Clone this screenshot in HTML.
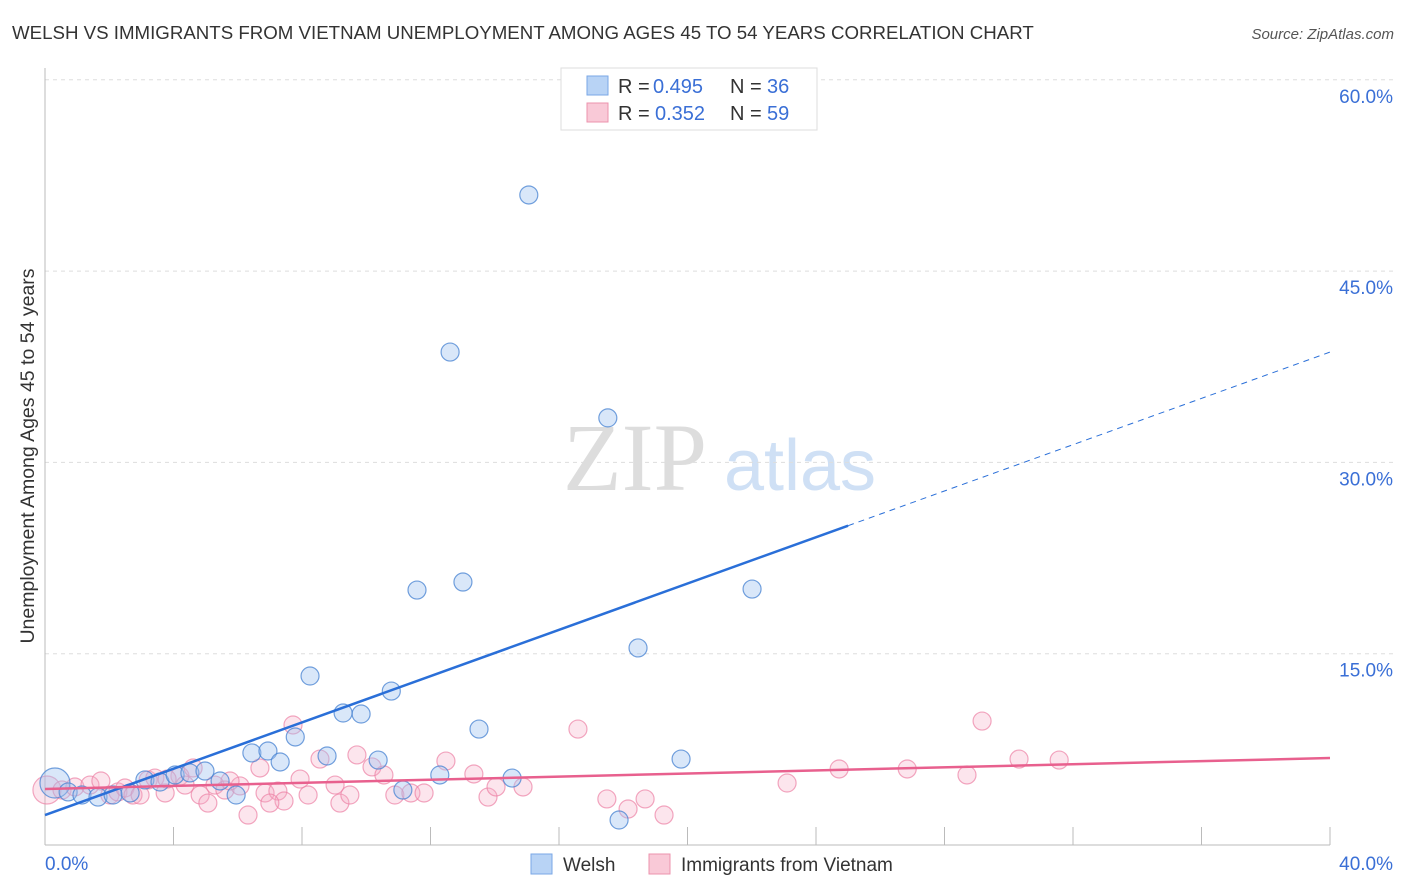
<!DOCTYPE html>
<html><head><meta charset="utf-8">
<style>
body{margin:0;background:#fff;font-family:"Liberation Sans",sans-serif;}
#wrap{position:relative;width:1406px;height:892px;overflow:hidden;}
svg{position:absolute;left:0;top:0;}
</style></head>
<body>
<div id="wrap">
<svg id="chart" width="1406" height="892" xmlns="http://www.w3.org/2000/svg">
<text x="12" y="39" font-size="18.7" fill="#333">WELSH VS IMMIGRANTS FROM VIETNAM UNEMPLOYMENT AMONG AGES 45 TO 54 YEARS CORRELATION CHART</text>
<text x="1394" y="39" font-size="15" fill="#555" font-style="italic" text-anchor="end">Source: ZipAtlas.com</text>
<text x="34" y="456" font-size="19.5" fill="#333" text-anchor="middle" transform="rotate(-90 34 456)">Unemployment Among Ages 45 to 54 years</text>
<g>
<text x="635" y="490" font-size="96" fill="#ddd" font-family="Liberation Serif,serif" text-anchor="middle">ZIP</text>
<text x="800" y="490" font-size="72" fill="#cfe0f5" text-anchor="middle">atlas</text>
</g>
<g id="grid"></g>
<g id="axes"></g>
<g id="pts"></g>
<g id="lines"></g>
<g>
<rect x="561" y="68" width="256" height="62" fill="#fff" stroke="#ddd"/>
<rect x="587" y="76" width="21" height="19" fill="#b8d3f5" stroke="#7aa7e6"/>
<text x="618" y="93" font-size="20" fill="#333">R =</text>
<text x="653" y="93" font-size="20" fill="#3a6fd6">0.495</text>
<text x="730" y="93" font-size="20" fill="#333">N =</text>
<text x="767" y="93" font-size="20" fill="#3a6fd6">36</text>
<rect x="587" y="103" width="21" height="19" fill="#f9c9d7" stroke="#ec93ae"/>
<text x="618" y="120" font-size="20" fill="#333">R =</text>
<text x="655" y="120" font-size="20" fill="#3a6fd6">0.352</text>
<text x="730" y="120" font-size="20" fill="#333">N =</text>
<text x="767" y="120" font-size="20" fill="#3a6fd6">59</text>
</g>
<g>
<rect x="531" y="854" width="21" height="20" fill="#b8d3f5" stroke="#7aa7e6"/>
<text x="563" y="871" font-size="19" fill="#333">Welsh</text>
<rect x="649" y="854" width="21" height="20" fill="#f9c9d7" stroke="#ec93ae"/>
<text x="681" y="871" font-size="19" fill="#333">Immigrants from Vietnam</text>
</g>
</svg>
</div>
<script>
const yTicks=[15,30,45,60];
const yTickLabels=["15.0%","30.0%","45.0%","60.0%"];
const xLabels=["0.0%","40.0%"];
const welshX=[0.31,0.72,1.15,1.65,2.12,2.65,3.11,3.58,4.05,4.51,4.98,5.45,5.95,6.44,6.94,7.32,7.79,8.25,8.78,9.28,9.84,10.37,10.78,11.14,11.58,12.29,12.61,13.01,13.51,14.54,15.06,17.52,17.87,18.46,19.80,22.01];
const welshY=[4.86,4.16,3.92,3.76,3.92,4.08,5.10,4.94,5.49,5.65,5.80,5.02,3.92,7.22,7.37,6.51,8.47,13.25,6.98,10.35,10.27,6.66,12.07,4.31,19.99,5.49,38.65,20.62,9.09,5.25,50.97,33.49,1.96,15.45,6.74,20.07];
const vietX=[0.06,0.53,0.93,1.40,1.74,2.02,2.27,2.49,2.74,3.21,3.42,3.74,4.20,4.36,4.61,4.83,5.07,5.29,5.60,6.07,6.32,6.69,6.85,7.25,7.44,7.72,7.94,8.19,8.56,9.03,9.18,9.49,9.71,10.18,10.55,10.89,11.39,11.80,12.48,13.35,13.79,14.04,14.88,16.59,17.49,18.15,18.68,19.27,23.10,24.72,26.84,28.70,29.17,30.32,31.57,2.96,5.76,7.00,3.80];
const vietY=[4.31,4.31,4.55,4.70,5.02,3.92,4.16,4.47,3.92,5.10,5.25,4.08,5.41,4.70,6.04,3.92,3.29,4.70,4.31,4.63,2.35,6.04,4.08,4.23,3.45,9.41,5.17,3.92,6.74,4.70,3.29,3.92,7.06,6.12,5.49,3.92,4.08,4.08,6.58,5.57,3.76,4.55,4.55,9.09,3.61,2.82,3.61,2.35,4.86,5.96,5.96,5.49,9.72,6.74,6.66,3.92,5.02,3.29,5.17];
const welshFit=[2.35,38.65];
const welshSolidEnd=25.0;
const vietFit=[4.39,6.82];
const X0=45,X1=1330,Y0=845,PPY=191.3/15;
const sx=v=>X0+(v/40)*(X1-X0);
const sy=v=>Y0-v*PPY;
const NS="http://www.w3.org/2000/svg";
function mk(tag,attrs,parent){const e=document.createElementNS(NS,tag);for(const k in attrs)e.setAttribute(k,attrs[k]);parent.appendChild(e);return e;}
const grid=document.getElementById('grid'),axes=document.getElementById('axes'),pts=document.getElementById('pts'),lines=document.getElementById('lines');
yTicks.forEach((t,i)=>{
  const l=mk('line',{x1:X0,x2:1394,y1:sy(t),y2:sy(t),stroke:'#ddd','stroke-dasharray':'4,4'},grid);
  
  
  const tx=mk('text',{x:1393,y:sy(t)+23,'font-size':19,fill:'#3a6fd6','text-anchor':'end'},axes);
  tx.textContent=yTickLabels[i];
  
  
});
const ax=mk('line',{x1:X0,x2:X0,y1:68,y2:Y0,stroke:'#bbb'},axes);


const bx=mk('line',{x1:X0,x2:X1,y1:Y0,y2:Y0,stroke:'#bbb'},axes);


for(let i=1;i<=10;i++){const t=mk('line',{x1:sx(i*4),x2:sx(i*4),y1:Y0-18,y2:Y0,stroke:'#bbb'},axes);
  
  }
const xl0=mk('text',{x:45,y:870,'font-size':19,fill:'#3a6fd6'},axes);xl0.textContent=xLabels[0];


const xl1=mk('text',{x:1393,y:870,'font-size':19,fill:'#3a6fd6','text-anchor':'end'},axes);xl1.textContent=xLabels[1];


vietX.forEach((v,i)=>{const c=mk('circle',{cx:sx(v),cy:sy(vietY[i]),r:i==0?14:9,fill:'rgba(246,170,195,0.3)',stroke:'rgba(236,130,165,0.7)','stroke-width':1.2},pts);
  
  });
welshX.forEach((v,i)=>{const c=mk('circle',{cx:sx(v),cy:sy(welshY[i]),r:i==0?15:9,fill:'rgba(160,196,240,0.4)',stroke:'rgba(70,130,210,0.75)','stroke-width':1.2},pts);
  
  });
const wy=x=>welshFit[0]+(welshFit[1]-welshFit[0])*x/40;
const l1=mk('line',{x1:sx(0),y1:sy(wy(0)),x2:sx(welshSolidEnd),y2:sy(wy(welshSolidEnd)),stroke:'#2a6fd8','stroke-width':2.5},lines);


const l2=mk('line',{x1:sx(welshSolidEnd),y1:sy(wy(welshSolidEnd)),x2:sx(40),y2:sy(wy(40)),stroke:'#2a6fd8','stroke-width':1,'stroke-dasharray':'6,5'},lines);


const l3=mk('line',{x1:sx(0),y1:sy(vietFit[0]),x2:sx(40),y2:sy(vietFit[1]),stroke:'#e8608e','stroke-width':2.5},lines);


</script>
</body></html>
